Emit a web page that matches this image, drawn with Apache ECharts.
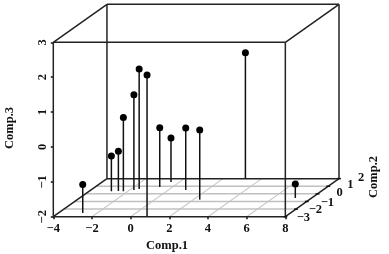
<!DOCTYPE html>
<html>
<head>
<meta charset="utf-8">
<style>html,body{margin:0;padding:0;background:#fff}#c{width:389px;height:254px}</style>
<script src="https://cdn.jsdelivr.net/npm/echarts@6/dist/echarts.min.js"></script>
</head>
<body>
<div id="c"></div>
<script>
// Data
const comp1 = [-2.75, -2.85, -2.51, -2.23, -1.78, -1.58, 0.82, -0.66, -0.45, 0.90, 2.33, 3.16, 7.15];
const comp2 = [-2.51, 0.34, 0.38, 0.34, 0.51, 0.64, -2.95, 0.90, 1.57, 0.51, -0.76, 2.00, -0.54];
const comp3 = [-1.18, -0.99, -0.86, 0.115, 0.73, 1.44, 2.05, -0.30, -0.74, -0.22, 0.0, 1.61, -1.60];
const ticks1 = [-4, -2, 0, 2, 4, 6, 8];
const ticks2 = [-3, -2, -1, 0, 1, 2];
const ticks3 = [-2, -1, 0, 1, 2, 3];

const FONT = '"Liberation Serif", "Times New Roman", serif';
const minus = v => String(v).replace('-', '\u2212');
// oblique projection: depth of one Comp.2 unit expressed in Comp.1 / Comp.3 units
const kx = 0.555, kz = 0.2184;
const x0 = -4, x1 = 8, y0 = -3, y1 = 2, z0 = -2, z1 = 3;
const px = (x, y) => x + kx * (y - y0);
const pz = (y, z) => z + kz * (y - y0);
const proj = (x, y, z) => [px(x, y), pz(y, z)];

const edges = [
  [x0,y0,z0,x1,y0,z0],[x0,y0,z1,x1,y0,z1],[x0,y0,z0,x0,y0,z1],[x1,y0,z0,x1,y0,z1],
  [x0,y1,z0,x1,y1,z0],[x0,y1,z1,x1,y1,z1],[x0,y1,z0,x0,y1,z1],[x1,y1,z0,x1,y1,z1],
  [x0,y0,z0,x0,y1,z0],[x1,y0,z0,x1,y1,z0],[x0,y0,z1,x0,y1,z1],[x1,y0,z1,x1,y1,z1]
];
const diagLines = ticks1.slice(1, -1).map(t => [t,y0,z0,t,y1,z0]);
const horizLines = ticks2.slice(1, -1).map(t => [x0,t,z0,x1,t,z0]);

const segSeries = (data, color, width, z) => ({
  type: 'custom', data, silent: true, z, clip: false,
  renderItem: (p, api) => {
    const a = api.coord(proj(api.value(0), api.value(1), api.value(2)));
    const b = api.coord(proj(api.value(3), api.value(4), api.value(5)));
    return { type: 'line', shape: { x1: a[0], y1: a[1], x2: b[0], y2: b[1] },
             style: { stroke: color, lineWidth: width, fill: null } };
  }
});

const stems = comp1.map((x, i) => [x, comp2[i], z0, x, comp2[i], comp3[i]]);
const depthTicks = ticks2.map(t => [x1 - 0.1, t, z0, x1 + 0.1, t, z0]);

const option = {
  animation: false,
  backgroundColor: '#fff',
  grid: { left: 53.3, right: 50, top: 4.3, bottom: 37.3 },
  xAxis: {
    type: 'value', min: x0, max: px(x1, y1), interval: 2, splitLine: { show: false },
    axisLine: { show: false, onZero: false },
    axisTick: { show: true, length: 2.5, customValues: ticks1, lineStyle: { color: '#111', width: 1.5 } },
    axisLabel: { customValues: ticks1, margin: 6, formatter: minus,
      fontFamily: FONT, fontSize: 12.5, fontWeight: 'bold', color: '#111' }
  },
  yAxis: {
    type: 'value', min: z0, max: pz(y1, z1), interval: 1, splitLine: { show: false },
    axisLine: { show: false, onZero: false },
    axisTick: { show: true, length: 2.5, customValues: ticks3, lineStyle: { color: '#111', width: 1.5 } },
    axisLabel: { customValues: ticks3, rotate: 90, margin: 4, formatter: minus,
      fontFamily: FONT, fontSize: 12.5, fontWeight: 'bold', color: '#111' }
  },
  series: [
    segSeries(diagLines, '#c8c8c8', 1.1, 1),
    segSeries(horizLines, '#c0c0c0', 1.5, 1),
    segSeries(edges, '#222', 1.5, 2),
    segSeries(depthTicks, '#111', 1.5, 2),
    segSeries(stems, '#111', 1.5, 3),
    {
      type: 'custom', data: ticks2.map(t => [t]), silent: true, z: 3, clip: false,
      renderItem: (p, api) => {
        const t = api.value(0);
        const c = api.coord(proj(x1, t, z0));
        return { type: 'text', style: { text: minus(t), x: c[0] + (t < 0 ? 18 + (t + 3) * 1.3 : 22), y: c[1] + (t < 0 ? 1 : -1),
          align: 'center', verticalAlign: 'middle', font: 'bold 12.5px ' + FONT, fill: '#111' } };
      }
    },
    {
      type: 'scatter', z: 4, symbol: 'circle', symbolSize: 7, itemStyle: { color: '#000', opacity: 1 },
      data: comp1.map((x, i) => proj(x, comp2[i], comp3[i]))
    }
  ],
  graphic: [
    { type: 'text', left: 146, top: 239, style: { text: 'Comp.1', font: 'bold 12.5px ' + FONT, fill: '#111' } },
    { type: 'text', x: 10, y: 128, rotation: Math.PI / 2, style: { text: 'Comp.3', align: 'center', verticalAlign: 'middle', font: 'bold 12.5px ' + FONT, fill: '#111' } },
    { type: 'text', x: 374, y: 177, rotation: Math.PI / 2, style: { text: 'Comp.2', align: 'center', verticalAlign: 'middle', font: 'bold 12.5px ' + FONT, fill: '#111' } }
  ]
};
const chart = echarts.init(document.getElementById('c'), null, { renderer: 'canvas' });
chart.setOption(option);
</script>
</body>
</html>
